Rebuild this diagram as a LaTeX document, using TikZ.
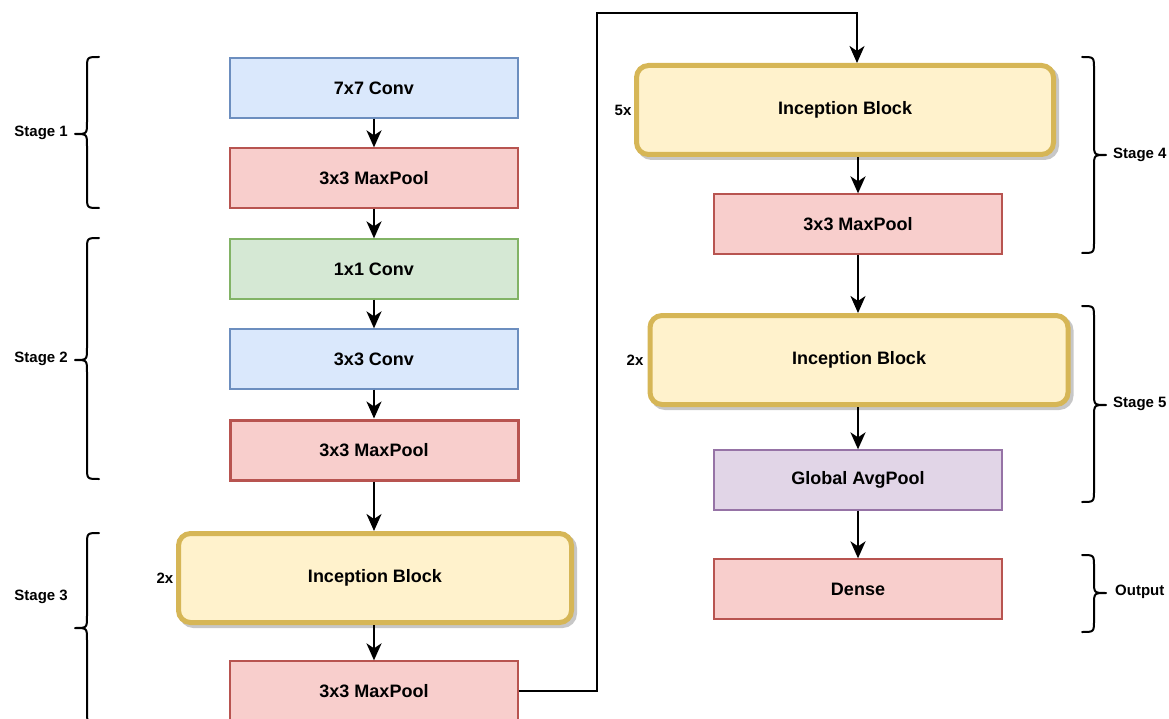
\documentclass[tikz,border=0pt]{standalone}
\usepackage{fontspec}
\setmainfont{Liberation Sans}
\usetikzlibrary{arrows.meta,shadows}

\definecolor{blueF}{HTML}{DAE8FC}\definecolor{blueD}{HTML}{6C8EBF}
\definecolor{redF}{HTML}{F8CECC}\definecolor{redD}{HTML}{B85450}
\definecolor{greenF}{HTML}{D5E8D4}\definecolor{greenD}{HTML}{82B366}
\definecolor{purpF}{HTML}{E1D5E7}\definecolor{purpD}{HTML}{9673A6}
\definecolor{yelF}{HTML}{FFF2CC}\definecolor{yelD}{HTML}{D6B656}

\tikzset{
  layer/.style={rectangle, inner sep=0pt, minimum width=288pt, minimum height=60pt,
    line width=1.3pt, font=\fontsize{18}{22}\selectfont\bfseries},
  conv/.style={layer, fill=blueF, draw=blueD},
  pool/.style={layer, fill=redF, draw=redD},
  pointwise/.style={layer, fill=greenF, draw=greenD},
  avgpool/.style={layer, fill=purpF, draw=purpD},
  inception/.style={rectangle, rounded corners=12pt, inner sep=0pt, minimum height=89pt,
    line width=5pt, fill=yelF, draw=yelD, font=\fontsize{18}{22}\selectfont\bfseries,
    drop shadow={shadow xshift=3pt, shadow yshift=-3pt, fill=black!22, draw=black!22,
      line width=5pt, opacity=1}},
  arr/.style={line width=2.3pt, -{Stealth[length=17pt,width=15pt,inset=5pt]}},
  curly/.style={line width=2pt, line cap=round, line join=round},
  stagelbl/.style={font=\fontsize{15}{18}\selectfont\bfseries, inner sep=0pt},
  repeatlbl/.style={font=\fontsize{15}{18}\selectfont\bfseries, inner sep=0pt}
}

\begin{document}
\begin{tikzpicture}[x=1pt,y=-1pt]
\useasboundingbox (0,0) rectangle (1169,719);

% left column
\node[conv]      (c7)  at (374,88)  {7x7 Conv};
\node[pool]      (mp1) at (374,178) {3x3 MaxPool};
\node[pointwise] (c1)  at (374,269) {1x1 Conv};
\node[conv]      (c3)  at (374,359) {3x3 Conv};
\node[pool, line width=3pt] (mp2) at (374,450) {3x3 MaxPool};
\node[inception, minimum width=393pt] (inc3) at (375,578) {Inception Block};
\node[pool]      (mp3) at (374,691) {3x3 MaxPool};

% right column
\node[inception, minimum width=417pt] (inc4) at (845,110) {Inception Block};
\node[pool]      (mp4) at (858,224) {3x3 MaxPool};
\node[inception, minimum width=418pt] (inc5) at (859,360) {Inception Block};
\node[avgpool]   (gap) at (858,480) {Global AvgPool};
\node[pool]      (fc)  at (858,589) {Dense};

% repeat counts
\node[repeatlbl] (r3) at (165,578) {2x};
\node[repeatlbl] (r4) at (623,110) {5x};
\node[repeatlbl] (r5) at (635,360) {2x};

% connectors
\draw[arr] (c7) -- (mp1);
\draw[arr] (mp1) -- (c1);
\draw[arr] (c1) -- (c3);
\draw[arr] (c3) -- (mp2);
\draw[arr] (mp2) -- (mp2 |- inc3.north);
\draw[arr] (mp3.north |- inc3.south) -- (mp3);
\coordinate (turnA) at (597,13);
\coordinate (turnB) at (857,13);
\draw[arr] (mp3.east) -| (turnA) -- (turnB) -- (turnB |- inc4.north);
\draw[arr] (mp4.north |- inc4.south) -- (mp4);
\draw[arr] (mp4) -- (mp4 |- inc5.north);
\draw[arr] (gap.north |- inc5.south) -- (gap);
\draw[arr] (gap) -- (fc);

% left braces
\draw[curly] (99,57) .. controls (87,57) .. (87,69) -- (87,122)
  .. controls (87,134) .. (75,134) .. controls (87,134) .. (87,146) -- (87,196)
  .. controls (87,208) .. (99,208);
\draw[curly] (99,238) .. controls (87,238) .. (87,250) -- (87,348)
  .. controls (87,360) .. (75,360) .. controls (87,360) .. (87,372) -- (87,467)
  .. controls (87,479) .. (99,479);
\draw[curly] (99,533) .. controls (87,533) .. (87,545) -- (87,616)
  .. controls (87,628) .. (75,628) .. controls (87,628) .. (87,640) -- (87,711)
  .. controls (87,723) .. (99,723);

% right braces
\draw[curly] (1082,57) .. controls (1094,57) .. (1094,69) -- (1094,143)
  .. controls (1094,155) .. (1106,155) .. controls (1094,155) .. (1094,167) -- (1094,241)
  .. controls (1094,253) .. (1082,253);
\draw[curly] (1082,306) .. controls (1094,306) .. (1094,318) -- (1094,393)
  .. controls (1094,405) .. (1106,405) .. controls (1094,405) .. (1094,417) -- (1094,490)
  .. controls (1094,502) .. (1082,502);
\draw[curly] (1082,555) .. controls (1094,555) .. (1094,567) -- (1094,581)
  .. controls (1094,593) .. (1106,593) .. controls (1094,593) .. (1094,605) -- (1094,620)
  .. controls (1094,632) .. (1082,632);

% stage labels
\node[stagelbl, anchor=east] (s1) at (68,133) {Stage 1};
\node[stagelbl, anchor=east] (s2) at (68,359) {Stage 2};
\node[stagelbl, anchor=east] (s3) at (68,597) {Stage 3};
\node[stagelbl, anchor=west] (s4) at (1113,155) {Stage 4};
\node[stagelbl, anchor=west] (s5) at (1113,404) {Stage 5};
\node[stagelbl, anchor=west] (so) at (1115,592) {Output};
\end{tikzpicture}
\end{document}
